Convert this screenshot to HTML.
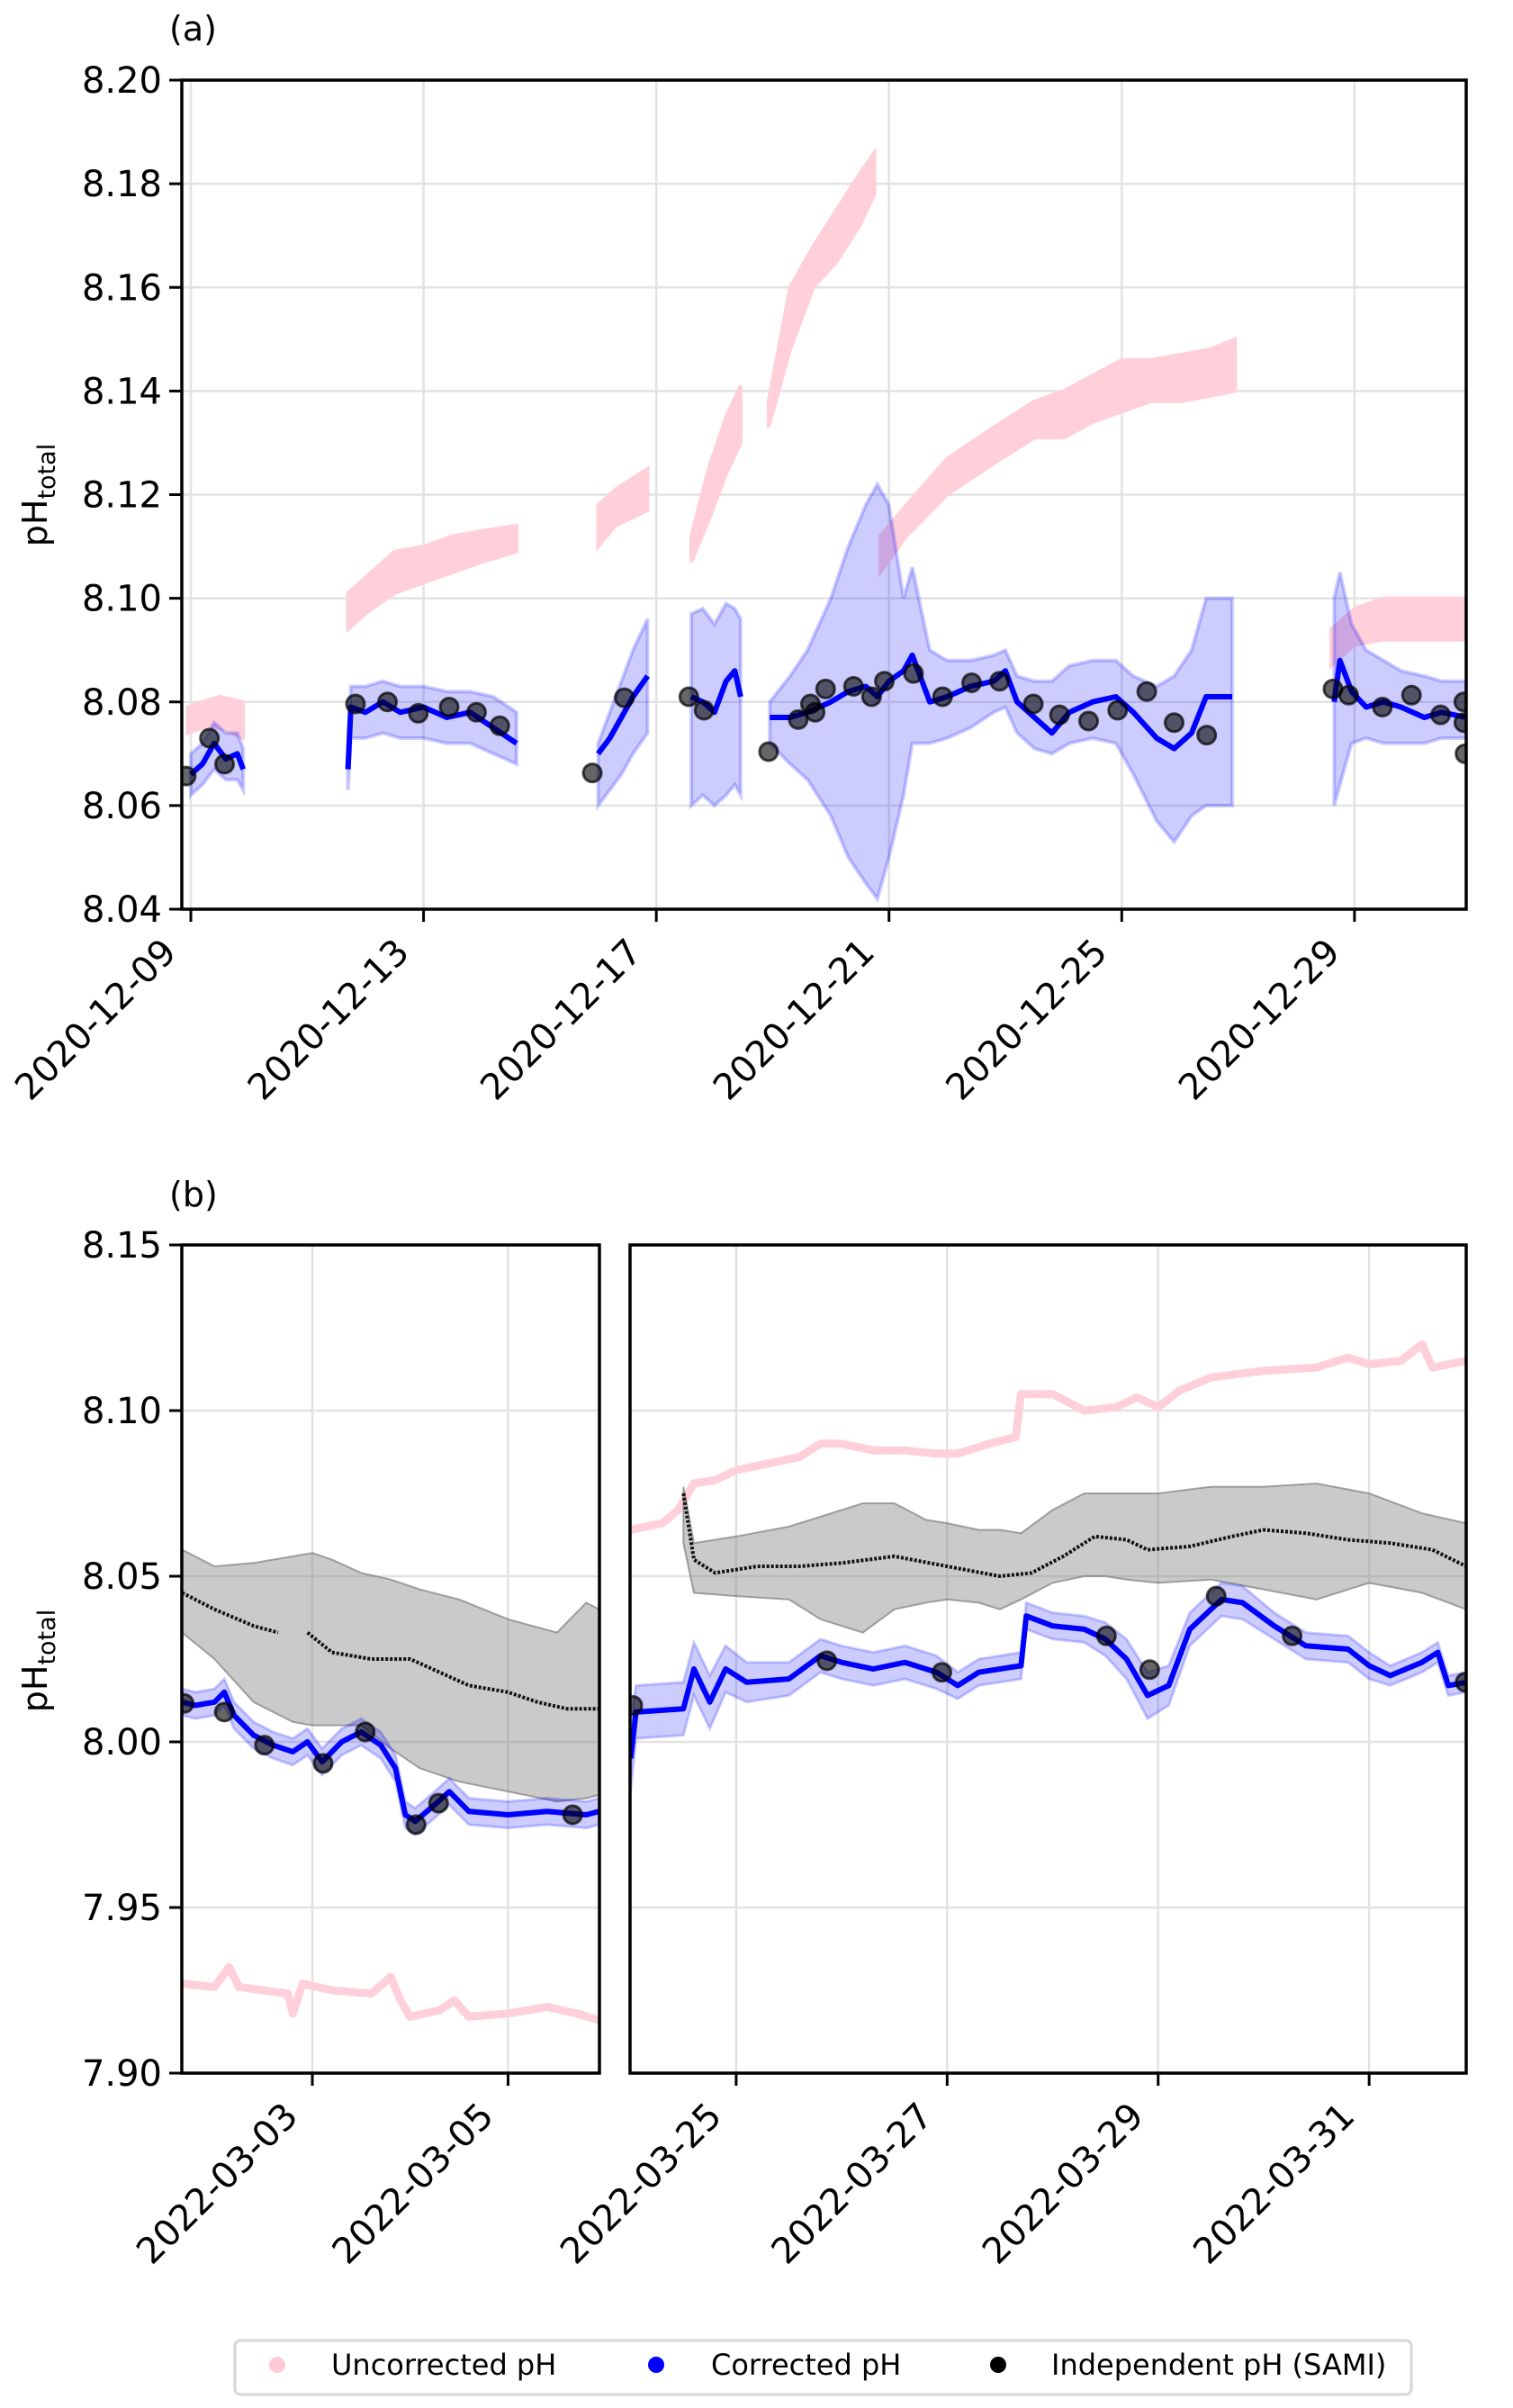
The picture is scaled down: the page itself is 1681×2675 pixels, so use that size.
<!DOCTYPE html>
<html><head><meta charset="utf-8">
<style>
html,body{margin:0;padding:0;background:#fff;}
svg{display:block;font-family:"DejaVu Sans","Liberation Sans",sans-serif;}
</style></head>
<body>
<svg id="fig" width="1681" height="2675" viewBox="0 0 1681 2675" xmlns="http://www.w3.org/2000/svg">
<rect width="1681" height="2675" fill="#fff"/>
<g id="root"></g>
<g>
<rect x="261" y="2600" width="1307" height="60" rx="6" fill="#fff" stroke="#d6d6d6" stroke-width="3"/>
<circle cx="308" cy="2627" r="9" fill="#ffcad6"/>
<text x="368" y="2638" font-size="32">Uncorrected pH</text>
<circle cx="729" cy="2627" r="9" fill="#0000ff"/>
<text x="790" y="2638" font-size="32">Corrected pH</text>
<circle cx="1109" cy="2627" r="9" fill="#000"/>
<text x="1168" y="2638" font-size="32">Independent pH (SAMI)</text>
</g>
</svg>
<script>
// ---------- Panel (a) data: days after 2020-12-09 ----------
const aTickLabels = ["2020-12-09","2020-12-13","2020-12-17","2020-12-21","2020-12-25","2020-12-29"];
const aTickDays = [0,4,8,12,16,20];
const aYTicks = [8.04,8.06,8.08,8.10,8.12,8.14,8.16,8.18,8.20];
const aUncT  = [-0.05,0.2,0.5,0.9,null,2.7,3.0,3.5,4.0,4.5,5.0,5.6,null,7.0,7.3,7.85,null,8.6,8.9,9.2,9.45,null,9.93,10.3,10.7,11.1,11.5,11.75,null,11.85,12.3,13.0,13.8,14.5,15.0,15.5,16.0,16.5,17.0,17.5,17.95,null,19.6,20.0,20.5,21.0,21.5,21.92];
const aUncLo = [8.074,8.075,8.075,8.073,null,8.094,8.097,8.101,8.103,8.105,8.107,8.109,null,8.110,8.114,8.117,null,8.107,8.115,8.124,8.130,null,8.133,8.148,8.160,8.165,8.172,8.178,null,8.105,8.112,8.120,8.126,8.131,8.131,8.134,8.136,8.138,8.138,8.139,8.140,null,8.087,8.091,8.092,8.092,8.092,8.092];
const aUncHi = [8.079,8.080,8.081,8.080,null,8.101,8.104,8.109,8.110,8.112,8.113,8.114,null,8.118,8.121,8.125,null,8.112,8.125,8.135,8.141,null,8.138,8.160,8.168,8.175,8.182,8.186,null,8.112,8.118,8.127,8.133,8.138,8.140,8.143,8.146,8.146,8.147,8.148,8.150,null,8.094,8.098,8.100,8.100,8.100,8.100];
const aCorT  = [0,0.2,0.4,0.6,0.8,0.9,null,2.7,2.75,3.0,3.3,3.6,4.0,4.4,4.8,5.2,5.6,null,7.0,7.2,7.4,7.6,7.85,null,8.6,8.8,9.0,9.2,9.35,9.45,null,9.95,10.3,10.6,11.0,11.3,11.6,11.8,12.0,12.25,12.4,12.7,13.0,13.4,13.8,14.0,14.2,14.5,14.8,15.1,15.5,15.9,16.2,16.6,16.9,17.2,17.45,17.9,null,19.65,19.75,19.95,20.2,20.5,20.8,21.2,21.5,21.92];
const aCorV  = [8.066,8.068,8.072,8.069,8.070,8.067,null,8.067,8.079,8.078,8.080,8.078,8.079,8.077,8.078,8.075,8.072,null,8.070,8.073,8.077,8.081,8.085,null,8.081,8.080,8.078,8.084,8.086,8.081,null,8.077,8.077,8.078,8.080,8.082,8.083,8.081,8.084,8.086,8.089,8.080,8.081,8.083,8.084,8.086,8.080,8.077,8.074,8.078,8.080,8.081,8.078,8.073,8.071,8.074,8.081,8.081,null,8.080,8.088,8.082,8.079,8.080,8.079,8.077,8.078,8.077];
const aCorLo = [8.062,8.064,8.067,8.065,8.065,8.063,null,8.063,8.073,8.073,8.074,8.073,8.073,8.072,8.072,8.070,8.068,null,8.060,8.063,8.066,8.070,8.074,null,8.060,8.062,8.060,8.062,8.064,8.062,null,8.072,8.068,8.065,8.058,8.050,8.045,8.042,8.050,8.062,8.072,8.072,8.073,8.075,8.078,8.079,8.074,8.071,8.070,8.072,8.073,8.072,8.066,8.057,8.053,8.058,8.060,8.060,null,8.060,8.064,8.072,8.073,8.072,8.072,8.072,8.073,8.073];
const aCorHi = [8.070,8.072,8.076,8.074,8.074,8.071,null,8.071,8.083,8.083,8.084,8.083,8.083,8.082,8.082,8.081,8.078,null,8.072,8.078,8.084,8.090,8.096,null,8.097,8.098,8.095,8.099,8.098,8.096,null,8.080,8.085,8.090,8.100,8.110,8.118,8.122,8.118,8.100,8.106,8.090,8.088,8.088,8.089,8.090,8.085,8.084,8.084,8.087,8.088,8.088,8.085,8.083,8.085,8.090,8.100,8.100,null,8.100,8.105,8.095,8.090,8.088,8.086,8.085,8.084,8.084];
const aSamiT = [-0.08,0.32,0.58,2.83,3.38,3.91,4.44,4.91,5.31,6.90,7.45,8.56,8.82,9.93,10.44,10.65,10.73,10.91,11.39,11.70,11.92,12.42,12.92,13.42,13.90,14.48,14.93,15.43,15.93,16.43,16.90,17.46,19.63,19.90,20.48,20.98,21.48,21.88,21.88,21.9];
const aSamiV = [8.0657,8.073,8.068,8.0796,8.080,8.0778,8.079,8.078,8.0754,8.0663,8.0808,8.081,8.0784,8.0704,8.0766,8.0796,8.078,8.0825,8.083,8.081,8.084,8.0855,8.081,8.0837,8.084,8.0796,8.0775,8.0763,8.0784,8.082,8.076,8.0736,8.0825,8.0813,8.079,8.0813,8.0775,8.080,8.076,8.070];

// ---------- Panel (b) left: day of March 2022 ----------
const bLTickLabels = ["2022-03-03","2022-03-05"];
const bLTickDays = [3,5];
const bYTicks = [7.90,7.95,8.00,8.05,8.10,8.15];
const bLUncT  = [1.67,2.0,2.15,2.25,2.5,2.75,2.8,2.9,3.2,3.6,3.8,3.9,4.0,4.3,4.45,4.6,5.0,5.4,5.7,5.93];
const bLUncV  = [7.927,7.926,7.932,7.926,7.925,7.924,7.918,7.927,7.925,7.924,7.929,7.922,7.917,7.919,7.922,7.917,7.918,7.920,7.918,7.916];
const bLCorT  = [1.67,1.8,2.0,2.1,2.2,2.4,2.6,2.8,2.95,3.1,3.3,3.5,3.7,3.85,3.95,4.05,4.25,4.4,4.5,4.6,5.0,5.4,5.8,5.93];
const bLCorV  = [8.012,8.011,8.012,8.015,8.008,8.002,7.999,7.997,8.000,7.994,8.000,8.003,7.999,7.992,7.978,7.976,7.981,7.985,7.982,7.979,7.978,7.979,7.978,7.979];
const bLSamiLineT = [1.67,2.0,2.4,2.65,null,2.95,3.2,3.6,4.0,4.3,4.6,5.0,5.3,5.6,5.93];
const bLSamiLineV = [8.045,8.040,8.035,8.033,null,8.033,8.027,8.025,8.025,8.021,8.017,8.015,8.012,8.010,8.010];
const bLGrayT  = [1.67,2.0,2.4,2.8,3.0,3.2,3.5,3.8,4.0,4.1,4.5,5.0,5.5,5.8,5.93];
const bLGrayLo = [8.033,8.025,8.012,8.006,8.005,8.005,8.005,7.998,7.994,7.992,7.988,7.985,7.982,7.983,7.984];
const bLGrayHi = [8.058,8.053,8.054,8.056,8.057,8.055,8.051,8.049,8.047,8.046,8.043,8.037,8.033,8.042,8.040];
const bLSamiT = [1.69,2.10,2.51,3.11,3.54,4.06,4.29,5.66];
const bLSamiV = [8.0116,8.009,7.999,7.9935,8.003,7.975,7.9815,7.978];

// ---------- Panel (b) right ----------
const bRTickLabels = ["2022-03-25","2022-03-27","2022-03-29","2022-03-31"];
const bRTickDays = [25,27,29,31];
const bRUncT = [24.0,24.3,24.45,24.6,24.8,25.0,25.3,25.6,25.8,26.0,26.3,26.6,26.9,27.1,27.4,27.65,27.7,28.0,28.3,28.6,28.8,29.0,29.2,29.5,30.0,30.5,30.8,31.0,31.3,31.5,31.6,31.92];
const bRUncV = [8.064,8.066,8.070,8.078,8.079,8.082,8.084,8.086,8.090,8.090,8.088,8.088,8.087,8.087,8.090,8.092,8.105,8.105,8.100,8.101,8.104,8.101,8.106,8.110,8.112,8.113,8.116,8.114,8.115,8.120,8.113,8.115];
const bRCorT = [24.0,24.05,24.5,24.6,24.75,24.9,25.1,25.5,25.8,26.0,26.3,26.6,26.9,27.1,27.3,27.7,27.75,28.0,28.3,28.5,28.7,28.9,29.1,29.3,29.6,29.8,30.1,30.4,30.8,31.0,31.2,31.5,31.65,31.75,31.92];
const bRCorV = [7.995,8.009,8.010,8.022,8.012,8.022,8.018,8.019,8.026,8.024,8.022,8.024,8.021,8.017,8.021,8.023,8.038,8.035,8.034,8.031,8.025,8.014,8.017,8.034,8.043,8.042,8.035,8.029,8.028,8.023,8.020,8.024,8.027,8.017,8.018];
const bRCorW = [0.010,0.008,0.008,0.008,0.008,0.007,0.006,0.005,0.005,0.005,0.005,0.005,0.005,0.004,0.004,0.004,0.004,0.004,0.004,0.005,0.006,0.007,0.006,0.005,0.005,0.005,0.004,0.004,0.004,0.004,0.003,0.003,0.003,0.003,0.003];
const bRSamiLineT = [24.5,24.6,24.8,25.2,25.6,26.0,26.5,27.0,27.5,27.8,28.1,28.4,28.7,28.9,29.3,29.7,30.0,30.4,30.8,31.2,31.6,31.92];
const bRSamiLineV = [8.075,8.055,8.051,8.053,8.053,8.054,8.056,8.053,8.050,8.051,8.056,8.062,8.061,8.058,8.059,8.062,8.064,8.063,8.061,8.060,8.058,8.053];
const bRGrayT  = [24.5,24.6,25.0,25.5,25.8,26.0,26.2,26.5,26.8,27.0,27.3,27.5,27.7,28.0,28.3,28.5,28.7,29.0,29.5,30.0,30.5,31.0,31.5,31.92];
const bRGrayLo = [8.060,8.045,8.044,8.043,8.037,8.035,8.033,8.040,8.042,8.043,8.042,8.040,8.043,8.048,8.050,8.050,8.049,8.048,8.049,8.046,8.043,8.048,8.045,8.040];
const bRGrayHi = [8.077,8.060,8.062,8.065,8.068,8.070,8.072,8.072,8.067,8.066,8.064,8.064,8.063,8.070,8.075,8.075,8.075,8.075,8.077,8.077,8.078,8.075,8.069,8.066];
const bRSamiT = [24.02,25.86,26.95,28.51,28.92,29.55,30.27,31.91];
const bRSamiV = [8.011,8.0245,8.021,8.032,8.0218,8.044,8.032,8.018];

const NS = "http://www.w3.org/2000/svg";
const root = document.getElementById('root');
function el(tag, attrs, parent){
  const e = document.createElementNS(NS, tag);
  for (const k in attrs) e.setAttribute(k, attrs[k]);
  (parent||root).appendChild(e);
  return e;
}
function makeAxis(px0,px1,d0,d1,py0,py1,v0,v1){
  return {x: d => px0 + (d-d0)/(d1-d0)*(px1-px0), y: v => py1 - (v-v0)/(v1-v0)*(py1-py0), px0,px1,py0,py1};
}
function segments(t, arrs){
  const segs=[]; let cur=null;
  for (let i=0;i<t.length;i++){
    if (t[i]===null){ cur=null; continue; }
    if(!cur){cur=[];segs.push(cur);}
    cur.push(arrs.map(a=>a[i]).concat([t[i]]));
  }
  return segs;
}
function bandPath(ax, t, lo, hi){
  let d='';
  for (const s of segments(t,[lo,hi])){
    d += 'M' + s.map(p=>ax.x(p[2]).toFixed(1)+','+ax.y(p[1]).toFixed(1)).join('L');
    d += 'L' + s.slice().reverse().map(p=>ax.x(p[2]).toFixed(1)+','+ax.y(p[0]).toFixed(1)).join('L') + 'Z';
  }
  return d;
}
function edgePath(ax, t, v){
  let d='';
  for (const s of segments(t,[v])) d += 'M' + s.map(p=>ax.x(p[1]).toFixed(1)+','+ax.y(p[0]).toFixed(1)).join('L');
  return d;
}
function frame(ax, g, yTicks, xTickDays, xTickLabels, showY, name){
  for (const v of yTicks){
    const gl = el('line',{x1:ax.px0,x2:ax.px1,y1:ax.y(v),y2:ax.y(v),stroke:'#e2e2e2','stroke-width':2.5},g);
    
    
  }
  xTickDays.forEach((d,i)=>{
    const x = ax.x(d);
    const gl = el('line',{x1:x,x2:x,y1:ax.py0,y2:ax.py1,stroke:'#e2e2e2','stroke-width':2.5},g);
    
    
  });
}
function axesDecor(ax, g, yTicks, xTickDays, xTickLabels, showY, name){
  const b = el('rect',{x:ax.px0,y:ax.py0,width:ax.px1-ax.px0,height:ax.py1-ax.py0,fill:'none',stroke:'#000','stroke-width':3.5},g);
  
  
  if (showY){
    for (const v of yTicks){
      const y = ax.y(v);
      el('line',{x1:ax.px0-14,x2:ax.px0,y1:y,y2:y,stroke:'#000','stroke-width':3},g);
      const t = el('text',{x:ax.px0-22,y:y+14,'text-anchor':'end','font-size':40},g);
      
      
      t.textContent = v.toFixed(2);
    }
  }
  xTickDays.forEach((d,i)=>{
    const x = ax.x(d);
    el('line',{x1:x,x2:x,y1:ax.py1,y2:ax.py1+14,stroke:'#000','stroke-width':3},g);
    const tx = x-14, ty = ax.py1+50;
    const t = el('text',{x:tx,y:ty,'text-anchor':'end','font-size':40,transform:`rotate(-45 ${tx} ${ty})`},g);
    
    
    t.textContent = xTickLabels[i];
  });
}
function drawSami(ax, g, t, v, name){
  t.forEach((d,i)=>{
    const c = el('circle',{cx:ax.x(d),cy:ax.y(v[i]),r:10,fill:'rgba(0,0,0,0.6)',stroke:'rgba(0,0,0,0.7)','stroke-width':3},g);
    
    
  });
}
function clip(ax, id){
  const cp = el('clipPath',{id:id});
  el('rect',{x:ax.px0,y:ax.py0,width:ax.px1-ax.px0,height:ax.py1-ax.py0},cp);
  return 'url(#'+id+')';
}
function ylabel(x,y,name){
  const t = el('text',{x:x,y:y,'text-anchor':'middle','font-size':38,transform:`rotate(-90 ${x} ${y})`});
  
  
  t.innerHTML = 'pH<tspan font-size="27" dy="9">total</tspan>';
}
function panelLabel(x,y,s,name){
  const t = el('text',{x:x,y:y,'font-size':38});
  
  
  t.textContent = s;
}

// ---- Panel A ----
const A = makeAxis(202,1629,-0.155,21.92,89,1010,8.04,8.20);
const gA = el('g',{});  
frame(A,gA,aYTicks,aTickDays,aTickLabels,true,'panel-a');
const gAd = el('g',{'clip-path':clip(A,'clipA')},gA);
const pa1 = el('path',{d:bandPath(A,aUncT,aUncLo,aUncHi),fill:'#ffd0da',stroke:'#ffd0da','stroke-width':4},gAd);
 
const pa2 = el('path',{d:bandPath(A,aCorT,aCorLo,aCorHi),fill:'rgba(0,0,255,0.2)',stroke:'rgba(0,0,255,0.2)','stroke-width':4},gAd);
 
const pa3 = el('path',{d:edgePath(A,aCorT,aCorV),fill:'none',stroke:'#0000ff','stroke-width':6,'stroke-linejoin':'round'},gAd);
 
drawSami(A,gAd,aSamiT,aSamiV,'panel-a');
axesDecor(A,gA,aYTicks,aTickDays,aTickLabels,true,'panel-a');
ylabel(52,550,'panel-a-y-axis-title');
panelLabel(188,45,'(a)','panel-a-label');

// ---- Panel B left ----
const BL = makeAxis(202,666,1.666,5.934,1383,2303,7.90,8.15);
const gBL = el('g',{});  
frame(BL,gBL,bYTicks,bLTickDays,bLTickLabels,true,'panel-b-left');
const gBLd = el('g',{'clip-path':clip(BL,'clipBL')},gBL);
const bl1 = el('path',{d:edgePath(BL,bLUncT,bLUncV),fill:'none',stroke:'#ffd0da','stroke-width':9,'stroke-linejoin':'round'},gBLd);
 
const bl2 = el('path',{d:bandPath(BL,bLGrayT,bLGrayLo,bLGrayHi),fill:'rgba(128,128,128,0.42)',stroke:'rgba(110,110,110,0.6)','stroke-width':2},gBLd);
 
const bl3 = el('path',{d:edgePath(BL,bLSamiLineT,bLSamiLineV),fill:'none',stroke:'#111','stroke-width':4,'stroke-dasharray':'3 2'},gBLd);
 
const bl4 = el('path',{d:bandPath(BL,bLCorT,bLCorV.map(v=>v-0.004),bLCorV.map(v=>v+0.004)),fill:'rgba(0,0,255,0.2)',stroke:'rgba(0,0,255,0.2)','stroke-width':3},gBLd);
 
const bl5 = el('path',{d:edgePath(BL,bLCorT,bLCorV),fill:'none',stroke:'#0000ff','stroke-width':6,'stroke-linejoin':'round'},gBLd);
 
drawSami(BL,gBLd,bLSamiT,bLSamiV,'panel-b-left');
axesDecor(BL,gBL,bYTicks,bLTickDays,bLTickLabels,true,'panel-b-left');
ylabel(52,1845,'panel-b-y-axis-title');
panelLabel(188,1340,'(b)','panel-b-label');

// ---- Panel B right ----
const BR = makeAxis(700,1629,23.994,31.92,1383,2303,7.90,8.15);
const gBR = el('g',{});  
frame(BR,gBR,bYTicks,bRTickDays,bRTickLabels,false,'panel-b-right');
const gBRd = el('g',{'clip-path':clip(BR,'clipBR')},gBR);
const br1 = el('path',{d:edgePath(BR,bRUncT,bRUncV),fill:'none',stroke:'#ffd0da','stroke-width':9,'stroke-linejoin':'round'},gBRd);
 
const br2 = el('path',{d:bandPath(BR,bRGrayT,bRGrayLo,bRGrayHi),fill:'rgba(128,128,128,0.42)',stroke:'rgba(110,110,110,0.6)','stroke-width':2},gBRd);
 
const br3 = el('path',{d:edgePath(BR,bRSamiLineT,bRSamiLineV),fill:'none',stroke:'#111','stroke-width':4,'stroke-dasharray':'3 2'},gBRd);
 
const br4 = el('path',{d:bandPath(BR,bRCorT,bRCorV.map((v,i)=>v-bRCorW[i]),bRCorV.map((v,i)=>v+bRCorW[i])),fill:'rgba(0,0,255,0.2)',stroke:'rgba(0,0,255,0.2)','stroke-width':3},gBRd);
 
const br5 = el('path',{d:edgePath(BR,bRCorT,bRCorV),fill:'none',stroke:'#0000ff','stroke-width':6,'stroke-linejoin':'round'},gBRd);
 
drawSami(BR,gBRd,bRSamiT,bRSamiV,'panel-b-right');
axesDecor(BR,gBR,bYTicks,bRTickDays,bRTickLabels,false,'panel-b-right');
</script>
</body></html>
